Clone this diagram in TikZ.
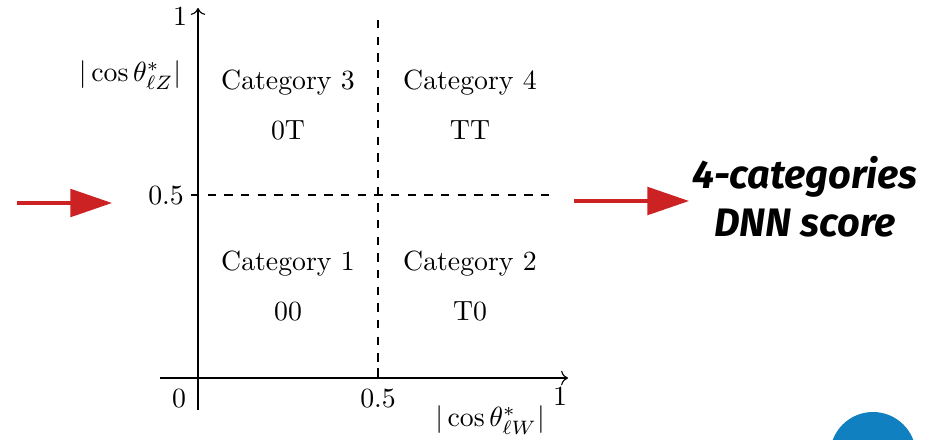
\documentclass[tikz,border=0pt]{standalone}
\usepackage{amsmath,amssymb}
\usepackage{fontspec}
\newfontfamily\dnnfont{Fira Sans}
\usetikzlibrary{arrows.meta,positioning}
\definecolor{arrowred}{RGB}{204,34,36}
\definecolor{logoblue}{RGB}{16,128,192}

\begin{document}
\begin{tikzpicture}[x=0.36pt,y=-0.36pt,>=To,
  cat/.style={align=center},
  redarrow/.style={arrowred,line width=1.1pt,-{Triangle[length=15pt,width=10pt]}}]
\useasboundingbox (0,0) rectangle (925,440);
% axes
\coordinate (xmin) at (160,378);
\coordinate (xmax) at (568,378);
\coordinate (ymin) at (198,410);
\coordinate (ymax) at (198,8);
\draw[->] (xmin)--(xmax);
\draw[->] (ymin)--(ymax);
\draw[dashed] (378,20)--(378,378)
(191,195)--(555,195);
\draw (378,378)--(378,368);
% tick labels
\node (xzero) at (179,399) {$0$};
\node (xhalf) at (378,399) {$0.5$};
\node (xone) at (560,397) {$1$};
\node (xlab) at (490,420) {$|\cos\theta^*_{\ell W}|$};
\node (yhalf) at (166,196) {$0.5$};
\node (yone) at (180,17) {$1$};
\node (ylab) at (130,75) {$|\cos\theta^*_{\ell Z}|$};
% categories
\node[cat] (cat3) at (288,105) {Category 3\\[6pt]0T};
\node[cat] (cat4) at (470,105) {Category 4\\[6pt]TT};
\node[cat] (cat1) at (288,286) {Category 1\\[6pt]00};
\node[cat] (cat2) at (470,286) {Category 2\\[6pt]T0};
% output
\node[align=center,inner sep=1pt,font=\dnnfont\bfseries\itshape\fontsize{14.3}{17.3}\selectfont] (dnn) at (805,197) {4-categories\\DNN score};
\coordinate (lstart) at (17,203);
\coordinate (lend) at (112,203);
\coordinate (rstart) at (574,201);
\draw[redarrow] (lstart)--(lend);
\draw[redarrow] (rstart)--(dnn.west|-rstart);
\fill[logoblue] (873,455) circle[radius=43];
\end{tikzpicture}
\end{document}
